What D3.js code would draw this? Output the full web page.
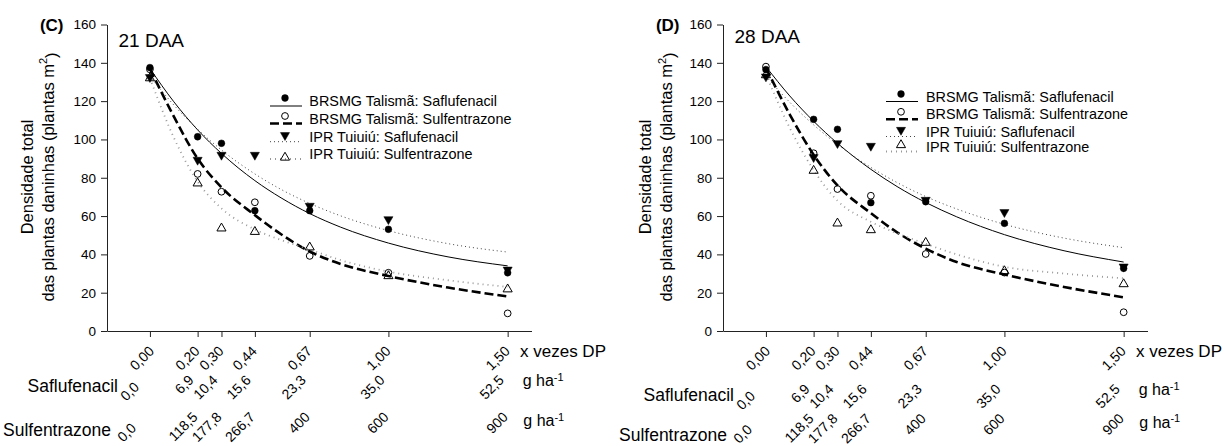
<!DOCTYPE html>
<html>
<head>
<meta charset="utf-8">
<script src="https://cdn.jsdelivr.net/npm/d3@7"></script>
<style>
  body { margin: 0; background: #fff; }
  svg { display: block; }
  text { font-family: "Liberation Sans", Arial, sans-serif; fill: #000; }
</style>
</head>
<body>
<svg id="chart" width="1224" height="446"></svg>
<script>
// Dose levels (multiples of the recommended dose, DP) and their tick labels
const dpTicks = [0, 0.2, 0.3, 0.44, 0.67, 1.0, 1.5];
const dpLabels = ["0,00", "0,20", "0,30", "0,44", "0,67", "1,00", "1,50"];
const saflufenacilLabels = ["0,0", "6,9", "10,4", "15,6", "23,3", "35,0", "52,5"];
const sulfentrazoneLabels = ["0,0", "118,5", "177,8", "266,7", "400", "600", "900"];
const yTicks = [0, 20, 40, 60, 80, 100, 120, 140, 160];

const seriesNames = [
  "BRSMG Talismã: Saflufenacil",
  "BRSMG Talismã: Sulfentrazone",
  "IPR Tuiuiú: Saflufenacil",
  "IPR Tuiuiú: Sulfentrazone"
];

// Observed weed density (plants m-2) at each dose, 21 DAA
const talismaSaf21 = [137.5, 101.4, 98.0, 62.8, 62.8, 53.1, 30.4];
const talismaSulf21 = [136.6, 82.0, 72.7, 67.2, 39.2, 30.4, 9.2];
const tuiuiuSaf21 = [132.5, 89.3, 91.9, 91.9, 65.3, 58.3, 32.0];
const tuiuiuSulf21 = [132.0, 77.1, 53.6, 51.8, 43.7, 28.7, 21.8];

// Observed weed density (plants m-2) at each dose, 28 DAA
const talismaSaf28 = [136.5, 110.5, 105.3, 67.0, 67.5, 56.2, 32.7];
const talismaSulf28 = [138.0, 92.8, 74.1, 70.6, 40.2, 30.5, 9.8];
const tuiuiuSaf28 = [132.8, 90.7, 98.0, 96.6, 68.4, 62.0, 33.6];
const tuiuiuSulf28 = [133.6, 83.7, 56.2, 52.7, 46.1, 31.3, 24.5];

// Fitted regression curves, evaluated at these doses
const fitDoses = [0, 0.1, 0.2, 0.3, 0.44, 0.55, 0.67, 0.8, 1.0, 1.25, 1.5];
const talismaSafFit21 = [137.0, 119.7, 105.0, 92.7, 78.5, 69.5, 61.3, 54.2, 45.9, 38.7, 34.0];
const talismaSulfFit21 = [137.0, 112.0, 90.0, 75.0, 60.5, 50.5, 41.5, 35.0, 28.7, 22.7, 18.0];
const tuiuiuSafFit21 = [133.0, 118.0, 105.3, 94.5, 82.0, 73.9, 66.6, 60.1, 52.4, 45.6, 41.2];
const tuiuiuSulfFit21 = [132.0, 101.0, 78.0, 64.0, 53.0, 47.5, 42.5, 37.0, 31.0, 26.5, 23.0];

const talismaSafFit28 = [138.0, 122.7, 109.5, 98.0, 84.4, 75.4, 67.1, 59.6, 50.3, 41.9, 36.0];
const talismaSulfFit28 = [137.5, 113.0, 92.0, 76.0, 61.5, 51.5, 43.0, 36.0, 29.5, 23.0, 17.6];
const tuiuiuSafFit28 = [133.0, 119.4, 107.6, 97.4, 85.4, 77.5, 70.2, 63.7, 55.7, 48.5, 43.5];
const tuiuiuSulfFit28 = [134.0, 106.0, 84.0, 68.0, 57.0, 51.0, 45.5, 40.0, 33.5, 30.0, 27.5];

// Visual style of each series: marker + regression line
const styles = [
  { symbol: d3.symbolCircle, rotate: 0, filled: true, stroke: "#000", width: 1, dash: null },
  { symbol: d3.symbolCircle, rotate: 0, filled: false, stroke: "#000", width: 2.6, dash: "9,4" },
  { symbol: d3.symbolTriangle, rotate: 180, filled: true, stroke: "#444", width: 1, dash: "1,3" },
  { symbol: d3.symbolTriangle, rotate: 0, filled: false, stroke: "#999", width: 1.8, dash: "1,4" }
];

const panels = [
  {
    tag: "(C)", title: "21 DAA", ox: 107, titleY: 46.7,
    obs: [talismaSaf21, talismaSulf21, tuiuiuSaf21, tuiuiuSulf21],
    fits: [talismaSafFit21, talismaSulfFit21, tuiuiuSafFit21, tuiuiuSulfFit21],
    legendRows: [106, 123.5, 141.7, 159], legendMarkerUp: [8, 7.5, 6.5, 1.5], legendText: 202.3,
    row2Shift: 0, row3Shift: 0, nameShift3: 0, ylab1: 33, ylab2: 53.5
  },
  {
    tag: "(D)", title: "28 DAA", ox: 723, titleY: 42.7,
    obs: [talismaSaf28, talismaSulf28, tuiuiuSaf28, tuiuiuSulf28],
    fits: [talismaSafFit28, talismaSulfFit28, tuiuiuSafFit28, tuiuiuSulfFit28],
    legendRows: [101.5, 119.3, 136.5, 151.5], legendMarkerUp: [7.5, 7.5, 6.5, 6.5], legendText: 203,
    row2Shift: 9, row3Shift: 1.5, nameShift3: 5, ylab1: 651, ylab2: 672
  }
];

const svg = d3.select("#chart");

panels.forEach(p => {
  const x = d3.scaleLinear().domain([-0.18, 1.6]).range([p.ox, p.ox + 424.5]);
  const y = d3.scaleLinear().domain([0, 160]).range([331, 24.5]);
  const g = svg.append("g");

  // Axes
  const yAxis = g.append("g")
    .attr("transform", `translate(${p.ox},0)`)
    .call(d3.axisLeft(y).tickValues(yTicks).tickSize(6).tickSizeOuter(0).tickPadding(5));
  yAxis.selectAll("text").style("font-size", "13.5px").style("font-family", "'Liberation Sans', Arial, sans-serif");

  const xAxis = g.append("g")
    .attr("transform", `translate(0,${y(0)})`)
    .call(d3.axisBottom(x).tickValues(dpTicks).tickSize(6).tickSizeOuter(0).tickFormat(""));
  [yAxis, xAxis].forEach(a => {
    a.select(".domain").attr("stroke", "#222");
    a.selectAll(".tick line").attr("stroke", "#222");
  });

  // Panel tag and evaluation time
  g.append("text").attr("x", p.ox - 43.5).attr("y", 30.5).attr("text-anchor", "end")
    .style("font-size", "17px").style("font-weight", "bold").text(p.tag);
  g.append("text").attr("x", p.ox + 11.5).attr("y", p.titleY)
    .style("font-size", "19px").text(p.title);

  // Y axis title (two lines)
  const cy = 177;
  g.append("text").attr("transform", `translate(${p.ylab1},${cy}) rotate(-90)`)
    .attr("text-anchor", "middle").style("font-size", "16.5px").text("Densidade total");
  const t2 = g.append("text").attr("transform", `translate(${p.ylab2},${cy}) rotate(-90)`)
    .attr("text-anchor", "middle").style("font-size", "16.5px");
  t2.append("tspan").text("das plantas daninhas (plantas m");
  t2.append("tspan").attr("dy", "-0.55em").style("font-size", "11px").text("2");
  t2.append("tspan").attr("dy", "0.55em").text(")");

  // Fitted curves
  const line = d3.line().x(d => x(d[0])).y(d => y(d[1])).curve(d3.curveMonotoneX);
  p.fits.forEach((fit, i) => {
    const s = styles[i];
    g.append("path")
      .datum(fitDoses.map((d, k) => [d, fit[k]]))
      .attr("d", line)
      .attr("fill", "none")
      .attr("stroke", s.stroke)
      .attr("stroke-width", s.width)
      .attr("stroke-dasharray", s.dash);
  });

  // Observed points
  const drawMarker = (sel, s) => sel
    .attr("d", d3.symbol().type(s.symbol).size(36))
    .attr("fill", s.filled ? "#000" : "none")
    .attr("stroke", "#000")
    .attr("stroke-width", s.filled ? 0.5 : 1);
  p.obs.forEach((vals, i) => {
    const s = styles[i];
    g.append("g").selectAll("path")
      .data(vals.map((v, k) => [dpTicks[k], v]))
      .join("path")
      .attr("transform", d => `translate(${x(d[0])},${y(d[1])}) rotate(${s.rotate})`)
      .call(drawMarker, s);
  });

  // Legend
  seriesNames.forEach((name, i) => {
    const s = styles[i];
    const ly = p.legendRows[i];
    g.append("line")
      .attr("x1", p.ox + 163).attr("x2", p.ox + 195)
      .attr("y1", ly).attr("y2", ly)
      .attr("stroke", s.stroke).attr("stroke-width", s.width)
      .attr("stroke-dasharray", s.dash);
    g.append("path")
      .attr("transform", `translate(${p.ox + 178},${ly - p.legendMarkerUp[i]}) rotate(${s.rotate})`)
      .call(drawMarker, s);
    g.append("text").attr("x", p.ox + p.legendText).attr("y", ly)
      .style("font-size", "14.4px").text(name);
  });

  // Dose label rows under the axis
  const rows = [
    { labels: dpLabels, dx: 3, y: 352, firstDx: 5, firstY: 352 },
    { labels: saflufenacilLabels, dx: -3, y: 381 + p.row2Shift, firstDx: -10, firstY: 388 + p.row2Shift },
    { labels: sulfentrazoneLabels, dx: 1, y: 418 + p.row3Shift, firstDx: -13, firstY: 429 + p.row3Shift }
  ];
  rows.forEach(r => {
    r.labels.forEach((lbl, k) => {
      const ax = x(dpTicks[k]) + (k === 0 ? r.firstDx : r.dx);
      const ay = k === 0 ? r.firstY : r.y;
      g.append("text")
        .attr("transform", `translate(${ax},${ay}) rotate(-45)`)
        .attr("text-anchor", "end")
        .style("font-size", "14px")
        .text(lbl);
    });
  });

  // Row names
  g.append("text").attr("x", p.ox + 11).attr("y", 392 + p.row2Shift)
    .attr("text-anchor", "end").style("font-size", "17.5px").text("Saflufenacil");
  g.append("text").attr("x", p.ox + 4).attr("y", 436 + p.nameShift3)
    .attr("text-anchor", "end").style("font-size", "17.5px").text("Sulfentrazone");

  // Units
  g.append("text").attr("x", p.ox + 413).attr("y", 357).style("font-size", "17px").text("x vezes DP");
  [[386 + p.row2Shift, 415.7], [426 + p.row3Shift, 416.3]].forEach(([uy, ux]) => {
    const u = g.append("text").attr("x", p.ox + ux).attr("y", uy).style("font-size", "16px");
    u.append("tspan").text("g ha");
    u.append("tspan").attr("dy", "-0.5em").style("font-size", "11px").text("-1");
  });
});
</script>
</body>
</html>
